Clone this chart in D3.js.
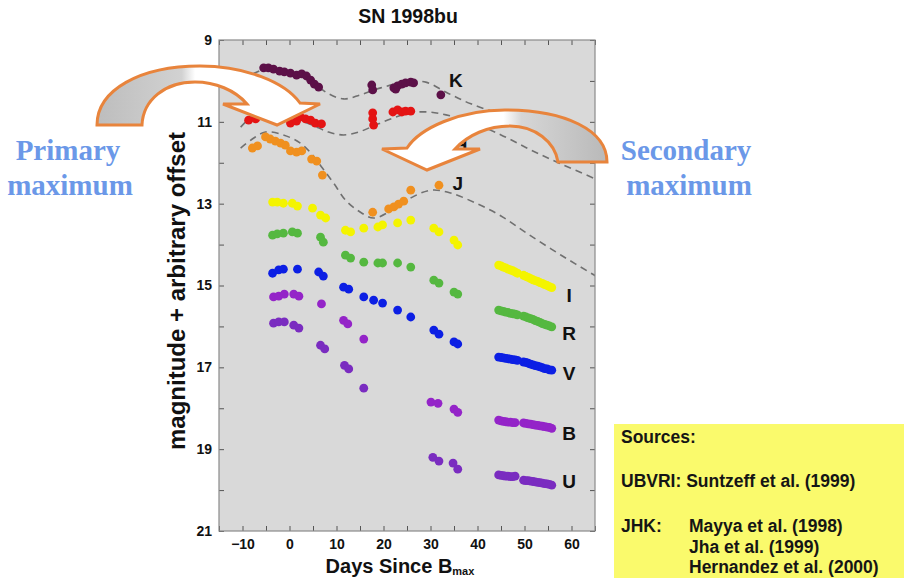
<!DOCTYPE html>
<html>
<head>
<meta charset="utf-8">
<script src="https://cdn.jsdelivr.net/npm/d3@7"></script>
<style>
  body { margin: 0; background: #fff; }
  svg { display: block; font-family: "Liberation Sans", Arial, Helvetica, sans-serif; }
</style>
</head>
<body>
<svg id="chart" width="904" height="578"></svg>
<script>
// ---- Data: SN 1998bu light curves, [days since B max, magnitude + offset] ----
const xTickValues = [-10, 0, 10, 20, 30, 40, 50, 60];
const yTickValues = [9, 11, 13, 15, 17, 19, 21];

const bandK = [[-5.5,9.68],[-4.5,9.68],[-3.4,9.71],[-2.1,9.76],[-1.1,9.78],[0.2,9.81],[1.5,9.86],[2.6,9.83],
  [3.6,9.88],[4.5,9.98],[5.3,10.08],[6.2,10.15],[17.5,10.10],[17.7,10.22],[22.2,10.17],[22.6,10.20],[23.0,10.12],
  [23.9,10.08],[24.7,10.05],[25.8,10.03],[26.4,10.05],[32.2,10.34]];
const bandH = [[-8.7,10.96],[-7.2,10.93],[0.2,11.03],[1.5,10.98],[2.3,10.88],[3.4,10.93],[4.5,10.96],[5.5,11.03],
  [6.8,11.05],[17.7,10.78],[17.7,10.93],[17.9,11.08],[22.0,10.76],[23.0,10.71],[23.9,10.76],[24.7,10.74],[25.8,10.74]];
const bandJ = [[-7.9,11.64],[-6.8,11.59],[-5.1,11.37],[-4.1,11.42],[-3.0,11.47],[-1.9,11.52],[-0.9,11.57],[0.2,11.71],
  [1.5,11.74],[2.6,11.71],[4.7,11.91],[5.8,11.96],[7.0,12.30],[17.7,13.21],[21.1,13.13],[22.2,13.08],[23.2,13.01],
  [24.3,12.94],[25.8,12.67],[31.8,12.55]];
const bandI = [[-3.6,12.96],[-2.6,12.96],[-1.3,12.99],[0.6,12.99],[1.7,13.06],[4.9,13.11],[6.6,13.28],[7.7,13.35],
  [11.9,13.65],[13.0,13.69],[15.8,13.60],[18.8,13.57],[19.8,13.52],[23.0,13.47],[25.8,13.40],[30.7,13.60],[31.8,13.69],
  [35.0,13.89],[35.8,14.01],
  [44.5,14.50],[45.0,14.52],[45.5,14.55],[46.0,14.57],[46.5,14.60],[47.0,14.62],[47.5,14.64],[48.0,14.67],[48.5,14.70],
  [49.8,14.75],[50.3,14.78],[50.8,14.80],[51.3,14.83],[51.8,14.86],[52.3,14.88],[52.8,14.90],[53.3,14.93],[53.8,14.95],
  [54.3,14.98],[54.8,15.00],[55.3,15.03],[55.8,15.05]];
const bandR = [[-3.6,13.77],[-2.6,13.74],[-1.3,13.72],[0.6,13.69],[1.7,13.72],[6.6,13.82],[7.2,13.94],[11.9,14.26],
  [13.0,14.33],[15.8,14.43],[18.8,14.45],[19.8,14.45],[23.0,14.45],[25.8,14.55],[30.7,14.87],[31.8,14.94],[35.0,15.16],
  [35.8,15.21],
  [44.5,15.60],[45.0,15.62],[45.5,15.63],[46.0,15.65],[46.5,15.66],[47.0,15.68],[47.5,15.69],[48.0,15.70],[48.5,15.72],
  [49.8,15.75],[50.3,15.77],[50.8,15.79],[51.3,15.81],[51.8,15.83],[52.3,15.86],[52.8,15.88],[53.3,15.90],[53.8,15.93],
  [54.3,15.95],[54.8,15.97],[55.3,15.99],[55.8,16.01]];
const bandV = [[-3.6,14.70],[-2.3,14.62],[-1.3,14.60],[1.7,14.60],[6.2,14.67],[7.2,14.77],[11.5,15.04],[12.6,15.09],
  [15.8,15.28],[17.9,15.36],[19.8,15.43],[23.0,15.60],[25.8,15.77],[30.7,16.09],[31.8,16.19],[35.0,16.38],[35.8,16.43],
  [44.5,16.75],[45.0,16.76],[45.5,16.77],[46.0,16.78],[46.5,16.79],[47.0,16.80],[47.5,16.81],[48.0,16.82],[48.5,16.83],
  [49.8,16.87],[50.3,16.88],[50.8,16.90],[51.3,16.92],[51.8,16.94],[52.3,16.96],[52.8,16.97],[53.3,16.99],[53.8,17.01],
  [54.3,17.03],[54.8,17.04],[55.3,17.06],[55.8,17.07]];
const bandB = [[-3.4,15.28],[-2.3,15.26],[-1.1,15.21],[0.9,15.21],[2.0,15.26],[6.8,15.45],[11.5,15.85],[12.4,15.94],
  [15.8,16.31],[30.1,17.85],[31.6,17.88],[35.0,18.02],[35.8,18.10],
  [44.5,18.29],[45.0,18.31],[45.5,18.32],[46.0,18.33],[46.5,18.34],[47.0,18.34],[47.5,18.35],[48.0,18.35],
  [49.8,18.36],[50.3,18.37],[50.8,18.38],[51.3,18.39],[51.8,18.40],[52.3,18.41],[52.8,18.42],[53.3,18.43],[53.8,18.44],
  [54.3,18.45],[54.8,18.46],[55.3,18.47],[55.8,18.49]];
const bandU = [[-3.4,15.92],[-2.3,15.89],[-1.1,15.89],[0.9,15.97],[2.0,16.04],[6.6,16.46],[7.5,16.55],[11.7,16.95],
  [12.6,17.04],[15.8,17.51],[30.5,19.20],[31.8,19.29],[34.8,19.34],[35.8,19.49],
  [44.5,19.63],[45.0,19.64],[45.5,19.65],[46.0,19.66],[46.5,19.66],[47.0,19.67],[47.5,19.67],[48.0,19.66],
  [49.8,19.76],[50.3,19.77],[50.8,19.77],[51.3,19.78],[51.8,19.79],[52.3,19.80],[52.8,19.81],[53.3,19.82],[53.8,19.83],
  [54.3,19.84],[54.8,19.85],[55.3,19.86],[55.8,19.88]];

// Template curves for the near-infrared bands
const templateK = [[-10,9.98],[-5.1,9.71],[0.2,9.81],[4.5,10.00],[8.1,10.30],[11.5,10.44],[15.1,10.34],[19.4,10.17],
  [24.7,10.03],[29.0,10.03],[33.7,10.30],[38.6,10.56],[45.0,10.81],[50.7,11.00],[57.8,11.30],[65.2,11.59]];
const templateH = [[-10.4,11.13],[-7.9,10.86],[-5.1,10.74],[-1.9,10.81],[1.3,10.93],[4.9,11.08],[8.3,11.25],[11.5,11.32],
  [14.7,11.25],[17.9,11.10],[21.5,10.93],[25.8,10.78],[29.6,10.76],[33.3,10.83],[38.0,10.98],[45.0,11.32],[51.4,11.69],
  [57.8,12.03],[65.2,12.40]];
const templateJ = [[-10.4,11.64],[-7.9,11.42],[-5.1,11.25],[-1.3,11.32],[2.3,11.52],[4.9,11.81],[7.0,12.13],[9.4,12.50],
  [11.9,12.91],[14.7,13.18],[17.9,13.35],[21.5,13.18],[25.8,12.86],[30.1,12.67],[34.3,12.74],[39.7,12.99],[45.0,13.30],
  [50.7,13.74],[57.8,14.26],[65.2,14.77]];

const bands = [
  {name: "K", pts: bandK, color: "#5c1048", label: [35.4, 10.15]},
  {name: "H", pts: bandH, color: "#e41414", label: [36.4, 11.74]},
  {name: "J", pts: bandJ, color: "#f0901f", label: [35.8, 12.67]},
  {name: "I", pts: bandI, color: "#f4f400", label: [59.5, 15.40]},
  {name: "R", pts: bandR, color: "#55b840", label: [59.5, 16.33]},
  {name: "V", pts: bandV, color: "#0c1fe4", label: [59.5, 17.30]},
  {name: "B", pts: bandB, color: "#9424c8", label: [59.5, 18.78]},
  {name: "U", pts: bandU, color: "#7a2cc0", label: [59.5, 19.95]}
];

const sources = ["Sources:", "UBVRI: Suntzeff et al. (1999)", "JHK:", "Mayya et al. (1998)", "Jha et al. (1999)", "Hernandez et al. (2000)"];

// ---- Layout ----
const svg = d3.select("#chart");
const plot = {left: 219, right: 595, top: 40, bottom: 531};
const x = d3.scaleLinear().domain([-15, 65]).range([plot.left, plot.right]);
const y = d3.scaleLinear().domain([9, 21]).range([plot.top, plot.bottom]);

const defs = svg.append("defs");
defs.append("clipPath").attr("id", "plotclip").append("rect")
  .attr("x", plot.left).attr("y", plot.top)
  .attr("width", plot.right - plot.left).attr("height", plot.bottom - plot.top);

// plot background
svg.append("rect").attr("x", plot.left).attr("y", plot.top)
  .attr("width", plot.right - plot.left).attr("height", plot.bottom - plot.top)
  .attr("fill", "#d9d9d9");

// dashed template curves
const line = d3.line().x(d => x(d[0])).y(d => y(d[1])).curve(d3.curveCatmullRom.alpha(0.5));
svg.append("g").attr("clip-path", "url(#plotclip)")
  .selectAll("path").data([templateK, templateH, templateJ]).join("path")
  .attr("d", line).attr("fill", "none").attr("stroke", "#707070")
  .attr("stroke-width", 1.6).attr("stroke-dasharray", "7,5");

// photometry points
const gPts = svg.append("g").attr("clip-path", "url(#plotclip)");
bands.forEach(b => {
  gPts.append("g").selectAll("circle").data(b.pts).join("circle")
    .attr("cx", d => x(d[0])).attr("cy", d => y(d[1])).attr("r", 4.4)
    .attr("fill", b.color);
});

// axes: inward ticks on all four sides
const tickLen = 5;
const fmt = d3.format("");
const xAxisB = d3.axisBottom(x).tickValues(d3.range(-15, 66, 5)).tickSize(-tickLen).tickPadding(8)
  .tickFormat(d => xTickValues.includes(d) ? fmt(d) : "");
const xAxisT = d3.axisTop(x).tickValues(d3.range(-15, 66, 5)).tickSize(-tickLen).tickFormat("");
const yAxisL = d3.axisLeft(y).tickValues(d3.range(9, 22, 1)).tickSize(-tickLen).tickPadding(7)
  .tickFormat(d => yTickValues.includes(d) ? fmt(d) : "");
const yAxisR = d3.axisRight(y).tickValues(d3.range(9, 22, 1)).tickSize(-tickLen).tickFormat("");

function styleAxis(g) {
  g.select(".domain").remove();
  g.selectAll(".tick line").attr("stroke", "#555").attr("stroke-width", 1);
  g.selectAll(".tick text").attr("fill", "#111").attr("font-size", 14).attr("font-weight", "bold")
    .attr("font-family", "'Liberation Sans', Arial, sans-serif");
}
svg.append("g").attr("transform", `translate(0,${plot.bottom})`).call(xAxisB).call(styleAxis);
svg.append("g").attr("transform", `translate(0,${plot.top})`).call(xAxisT).call(styleAxis);
svg.append("g").attr("transform", `translate(${plot.left},0)`).call(yAxisL).call(styleAxis);
svg.append("g").attr("transform", `translate(${plot.right},0)`).call(yAxisR).call(styleAxis);

// frame
svg.append("rect").attr("x", plot.left).attr("y", plot.top)
  .attr("width", plot.right - plot.left).attr("height", plot.bottom - plot.top)
  .attr("fill", "none").attr("stroke", "#8a8a8a").attr("stroke-width", 1.2);

// band labels
svg.append("g").selectAll("text").data(bands).join("text")
  .attr("x", d => x(d.label[0])).attr("y", d => y(d.label[1]))
  .attr("text-anchor", "middle").attr("font-size", 19).attr("font-weight", "bold").attr("fill", "#111")
  .text(d => d.name);

// titles
svg.append("text").attr("x", 408).attr("y", 23).attr("text-anchor", "middle")
  .attr("font-size", 19.5).attr("font-weight", "bold").attr("fill", "#111").text("SN 1998bu");

const xl = svg.append("text").attr("x", 400).attr("y", 572.5).attr("text-anchor", "middle")
  .attr("font-size", 20).attr("font-weight", "bold").attr("fill", "#111");
xl.append("tspan").text("Days Since B");
xl.append("tspan").attr("font-size", 11).attr("dy", 2.5).text("max");

svg.append("text").attr("transform", "translate(185,291) rotate(-90)")
  .attr("text-anchor", "middle").attr("font-size", 24).attr("font-weight", "bold").attr("fill", "#111")
  .text("magnitude + arbitrary offset");

// curved arrows marking the two maxima
const g1 = defs.append("linearGradient").attr("id", "arrowShade1").attr("gradientUnits", "userSpaceOnUse")
  .attr("x1", 97).attr("x2", 320).attr("y1", 0).attr("y2", 0);
g1.append("stop").attr("offset", 0).attr("stop-color", "#bdbdbd");
g1.append("stop").attr("offset", 0.38).attr("stop-color", "#d2d2d2");
g1.append("stop").attr("offset", 0.44).attr("stop-color", "#ffffff");
g1.append("stop").attr("offset", 1).attr("stop-color", "#ffffff");
const g2 = defs.append("linearGradient").attr("id", "arrowShade2").attr("gradientUnits", "userSpaceOnUse")
  .attr("x1", 607).attr("x2", 382).attr("y1", 0).attr("y2", 0);
g2.append("stop").attr("offset", 0).attr("stop-color", "#b9b9b9");
g2.append("stop").attr("offset", 0.38).attr("stop-color", "#d6d6d6");
g2.append("stop").attr("offset", 0.46).attr("stop-color", "#ffffff");
g2.append("stop").attr("offset", 1).attr("stop-color", "#ffffff");

const arrowPrimary = "M97,125 C97,90 140,66 200,66 C245,66 285,82 300,103 L320,104 L277,125 L223,104 L247,104 " +
  "C235,90 215,82 195,82 C165,82 143,100 142,125 Z";
const arrowSecondary = "M607,162 C607,130 565,110 505,110 C460,110 420,128 407,148 L382,149 L427,170 L480,149 L455,149 " +
  "C468,135 488,126 510,126 C535,126 555,142 558,162 Z";
svg.append("path").attr("d", arrowPrimary).attr("fill", "url(#arrowShade1)")
  .attr("stroke", "#e8843c").attr("stroke-width", 3).attr("stroke-linejoin", "miter");
svg.append("path").attr("d", arrowSecondary).attr("fill", "url(#arrowShade2)")
  .attr("stroke", "#e8843c").attr("stroke-width", 3).attr("stroke-linejoin", "miter");

// annotations
const serif = "'Liberation Serif', 'DejaVu Serif', 'Times New Roman', serif";
const annBlue = "#6b98e8";
svg.append("text").attr("x", 68).attr("y", 160).attr("text-anchor", "middle").attr("font-family", serif)
  .attr("font-size", 29).attr("font-weight", "bold").attr("fill", annBlue).text("Primary");
svg.append("text").attr("x", 70).attr("y", 195).attr("text-anchor", "middle").attr("font-family", serif)
  .attr("font-size", 29).attr("font-weight", "bold").attr("fill", annBlue).text("maximum");
svg.append("text").attr("x", 686).attr("y", 160).attr("text-anchor", "middle").attr("font-family", serif)
  .attr("font-size", 29).attr("font-weight", "bold").attr("fill", annBlue).text("Secondary");
svg.append("text").attr("x", 689).attr("y", 195).attr("text-anchor", "middle").attr("font-family", serif)
  .attr("font-size", 29).attr("font-weight", "bold").attr("fill", annBlue).text("maximum");

// sources box
svg.append("rect").attr("x", 614).attr("y", 424).attr("width", 290).attr("height", 154).attr("fill", "#fafa6c");
const srcPos = [[621, 443], [621, 487], [621, 532], [689, 532], [689, 553], [689, 573]];
svg.append("g").selectAll("text").data(sources).join("text")
  .attr("x", (d, i) => srcPos[i][0]).attr("y", (d, i) => srcPos[i][1])
  .attr("font-size", 17.5).attr("font-weight", "bold").attr("fill", "#151515").text(d => d);
</script>
</body>
</html>
